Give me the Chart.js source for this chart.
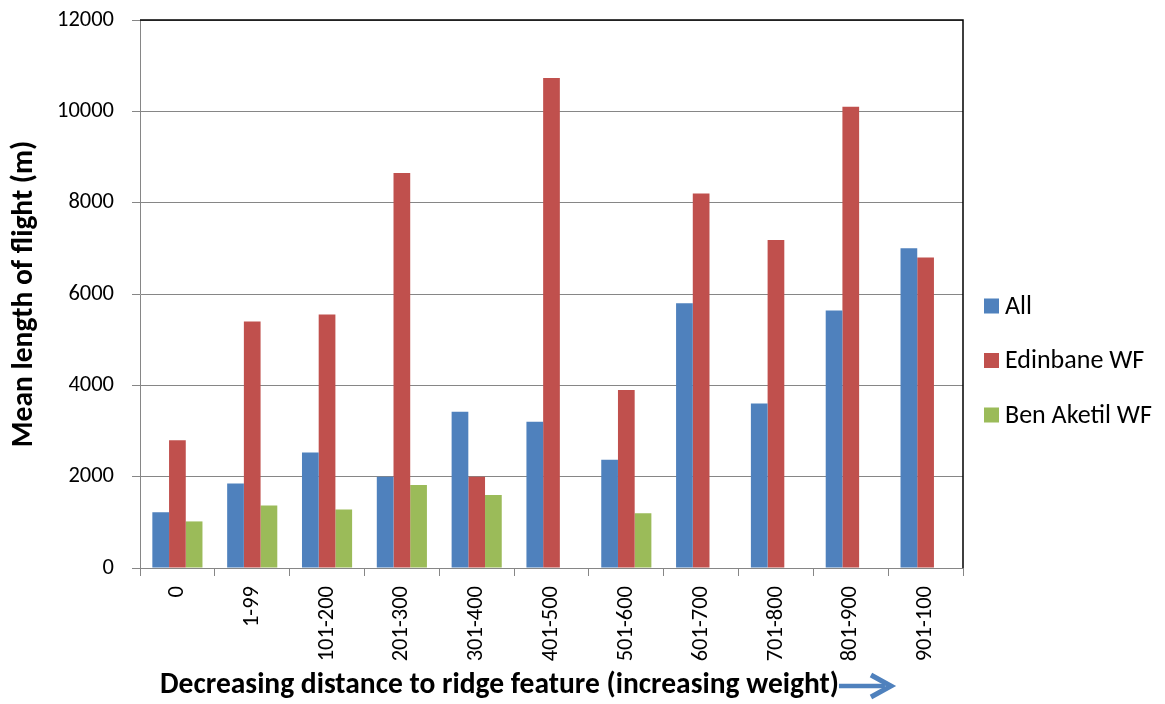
<!DOCTYPE html>
<html>
<head>
<meta charset="utf-8">
<script src="https://cdn.jsdelivr.net/npm/chart.js@4/dist/chart.umd.min.js"></script>
<style>
  html, body { margin: 0; padding: 0; background: #fff; }
  #wrap { width: 1165px; height: 704px; }
</style>
</head>
<body>
<div id="wrap"><canvas id="flightChart" width="1165" height="704"></canvas></div>
<script>
// ---- data ----
const categories = ["0", "1-99", "101-200", "201-300", "301-400", "401-500",
                    "501-600", "601-700", "701-800", "801-900", "901-100"];
const allValues       = [1220, 1850, 2530, 2000, 3420, 3200, 2370, 5800, 3600, 5640, 7000];
const edinbaneValues  = [2800, 5400, 5550, 8650, 2000, 10730, 3900, 8200, 7180, 10100, 6800];
const benAketilValues = [1020, 1370, 1280, 1820, 1600, null, 1200, null, null, null, null];

const seriesNames = ["All", "Edinbane WF", "Ben Aketil WF"];
const yTicks = [0, 2000, 4000, 6000, 8000, 10000, 12000];

const FONT = "Carlito, Calibri, Lato, sans-serif";
const GRID = "#868686";
const colors = ["#4F81BD", "#C0504D", "#9BBB59"];

/* -------------------------------------------------------
   frame, legend, x title + arrow (drawn after the chart)
------------------------------------------------------- */
const extras = {
    id: "extras",
    afterDraw(chart) {
        const { ctx, chartArea: a } = chart;
        ctx.save();

        // black plot border on top and right
        ctx.strokeStyle = "#000";
        ctx.lineWidth = 1.5;
        ctx.beginPath();
        ctx.moveTo(a.left, a.top);
        ctx.lineTo(a.right, a.top);
        ctx.lineTo(a.right, a.bottom);
        ctx.stroke();

        // legend
        ctx.font = `26px ${FONT}`;
        ctx.textBaseline = "middle";
        ctx.textAlign = "left";
        chart.data.datasets.forEach((ds, i) => {
            const cy = 306 + i * 54.5;
            const x = a.right + 21;
            ctx.fillStyle = ds.backgroundColor;
            ctx.fillRect(x, cy - 7.5, 15, 15);
            ctx.fillStyle = "#000";
            ctx.fillText(ds.label, x + 21, cy + 1);
        });

        // x axis title
        ctx.font = `bold 29.5px ${FONT}`;
        ctx.textBaseline = "alphabetic";
        ctx.fillStyle = "#000";
        const title = "Decreasing distance to ridge feature (increasing weight)";
        const tx = a.left + 20;
        ctx.fillText(title, tx, 693);

        // arrow
        const ax0 = tx + ctx.measureText(title).width;
        const ay = 686;
        ctx.strokeStyle = colors[0];
        ctx.lineCap = "butt";
        ctx.lineWidth = 4.5;
        ctx.beginPath();
        ctx.moveTo(ax0, ay);
        ctx.lineTo(ax0 + 46, ay);
        ctx.stroke();
        ctx.beginPath();
        ctx.moveTo(ax0 + 32, ay - 11);
        ctx.lineTo(ax0 + 52, ay);
        ctx.lineTo(ax0 + 32, ay + 11);
        ctx.lineWidth = 5;
        ctx.lineJoin = "miter";
        ctx.stroke();

        ctx.restore();
    }
};

const datasets = [allValues, edinbaneValues, benAketilValues].map((vals, i) => ({
    label: seriesNames[i],
    data: vals,
    backgroundColor: colors[i],
    borderWidth: 0,
    categoryPercentage: 0.67,
    barPercentage: 1.0
}));

new Chart(document.getElementById("flightChart"), {
    type: "bar",
    data: { labels: categories, datasets },
    options: {
        responsive: false,
        animation: false,
        layout: { padding: { top: 20, right: 202, bottom: 0, left: 0 } },
        plugins: {
            legend: { display: false },
            tooltip: { enabled: false }
        },
        scales: {
            x: {
                grid: { drawOnChartArea: false, tickLength: 8, color: GRID },
                border: { color: GRID, width: 1 },
                ticks: {
                    minRotation: 90, maxRotation: 90, padding: 10,
                    color: "#000", font: { family: FONT, size: 22.5 }
                },
                afterFit(scale) {
                    scale.height = 136;
                    scale.paddingLeft = 0;
                    scale.paddingRight = 0;
                }
            },
            y: {
                min: 0,
                max: 12000,
                afterBuildTicks(scale) { scale.ticks = yTicks.map(v => ({ value: v })); },
                grid: { color: GRID, tickLength: 8 },
                border: { color: GRID, width: 1 },
                ticks: {
                    padding: 18, color: "#000", font: { family: FONT, size: 22.5 },
                    callback: v => String(v)
                },
                title: {
                    display: true,
                    text: "Mean length of flight (m)",
                    color: "#000",
                    font: { family: FONT, size: 29.5, weight: "bold" },
                    padding: { top: 7, bottom: 0 }
                },
                afterFit(scale) {
                    scale.width = 140;
                    scale.paddingTop = 0;
                    scale.paddingBottom = 0;
                }
            }
        }
    },
    plugins: [extras]
});
</script>
</body>
</html>
